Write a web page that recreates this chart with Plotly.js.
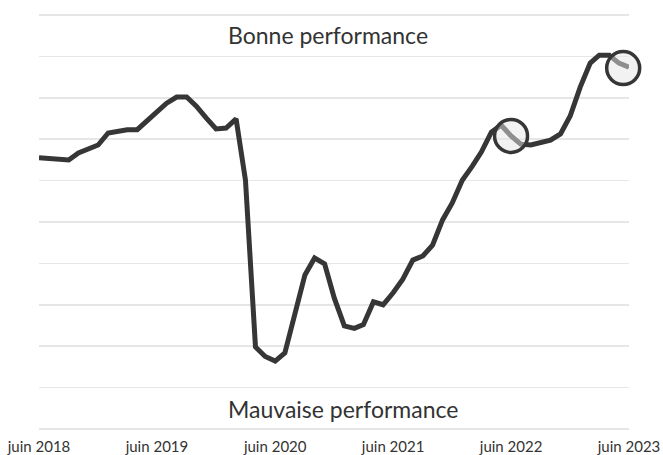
<!DOCTYPE html>
<html>
<head>
<meta charset="utf-8">
<script src="https://cdn.plot.ly/plotly-3.0.1.min.js"></script>
<style>html,body{margin:0;padding:0;background:#fff;}#chart{width:663px;height:455px;}</style>
</head>
<body>
<div id="chart"></div>
<script>
const months = [
 "2018-06-01","2018-07-01","2018-08-01","2018-09-01","2018-10-01","2018-11-01","2018-12-01",
 "2019-01-01","2019-02-01","2019-03-01","2019-04-01","2019-05-01","2019-06-01","2019-07-01","2019-08-01","2019-09-01","2019-10-01","2019-11-01","2019-12-01",
 "2020-01-01","2020-02-01","2020-03-01","2020-04-01","2020-05-01","2020-06-01","2020-07-01","2020-08-01","2020-09-01","2020-10-01","2020-11-01","2020-12-01",
 "2021-01-01","2021-02-01","2021-03-01","2021-04-01","2021-05-01","2021-06-01","2021-07-01","2021-08-01","2021-09-01","2021-10-01","2021-11-01","2021-12-01",
 "2022-01-01","2022-02-01","2022-03-01","2022-04-01","2022-05-01","2022-06-01","2022-07-01","2022-08-01","2022-09-01","2022-10-01","2022-11-01","2022-12-01",
 "2023-01-01","2023-02-01","2023-03-01","2023-04-01","2023-05-01","2023-06-01"
];
const performance = [
 65.5,65.3,65.0,65.0,66.7,67.6,68.6,
 71.5,72.0,72.3,72.3,74.6,76.6,78.7,80.2,80.2,78.0,75.1,72.5,
 72.7,74.9,60.1,19.8,17.5,16.4,18.4,27.8,37.2,41.3,39.9,31.6,
 24.9,24.3,25.2,30.7,30.0,32.9,36.2,40.8,41.8,44.4,50.5,54.6,
 60.1,63.5,66.9,71.7,73.4,70.8,68.8,68.6,69.1,69.8,71.3,75.6,
 82.6,88.4,90.3,90.3,88.4,87.4
];
const highlightDates = ["2022-06-01","2023-05-14"];
const highlightValues = [70.8, 87.2];
const tickDates = ["2018-06-01","2019-06-01","2020-06-01","2021-06-01","2022-06-01","2023-06-01"];
const tickLabels = ["juin 2018","juin 2019","juin 2020","juin 2021","juin 2022","juin 2023"];
const topLabel = "Bonne performance";
const bottomLabel = "Mauvaise performance";

const FONT = "Lato, 'Open Sans', sans-serif";

const traces = [
 {x: months, y: performance, type: "scatter", mode: "lines",
  line: {color: "#363636", width: 5, shape: "linear"}, hoverinfo: "skip"},
 {x: highlightDates, y: highlightValues, type: "scatter", mode: "markers", cliponaxis: false,
  marker: {size: 33, color: "rgba(230,230,230,0.5)", line: {color: "#363636", width: 3.5}},
  hoverinfo: "skip"}
];

const layout = {
 width: 663, height: 455,
 margin: {l: 39, r: 34, t: 13, b: 24},
 paper_bgcolor: "#fff", plot_bgcolor: "#fff",
 showlegend: false,
 font: {family: FONT, color: "#333"},
 xaxis: {type: "date", range: ["2018-06-01","2023-06-01"], tickvals: tickDates, ticktext: tickLabels,
   showgrid: false, zeroline: false, showline: false, ticks: "",
   tickfont: {family: FONT, size: 15, color: "#333"}, ticklabelstandoff: 5},
 yaxis: {range: [-0.5, 100.5], dtick: 10, tick0: 0, showgrid: true, gridcolor: "#e6e6e6", gridwidth: 1.5,
   showticklabels: false, zeroline: false, showline: false, ticks: ""},
 annotations: [
  {xref: "paper", yref: "y", x: 0.49, y: 95.2, text: topLabel, showarrow: false,
   font: {family: FONT, size: 23, color: "#333"}, xanchor: "center", yanchor: "middle"},
  {xref: "paper", yref: "y", x: 0.515, y: 4.9, text: bottomLabel, showarrow: false,
   font: {family: FONT, size: 23, color: "#333"}, xanchor: "center", yanchor: "middle"}
 ]
};

Plotly.newPlot("chart", traces, layout, {staticPlot: true, displayModeBar: false});
</script>
</body>
</html>
